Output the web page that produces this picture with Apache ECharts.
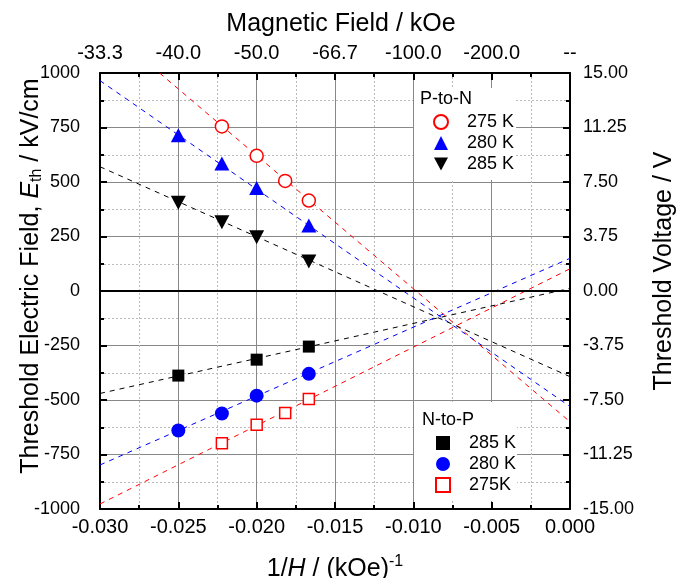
<!DOCTYPE html>
<html>
<head>
<meta charset="utf-8">
<script src="https://cdn.jsdelivr.net/npm/echarts@6/dist/echarts.min.js"></script>
<style>
  html, body { margin: 0; padding: 0; background: #fff; }
  #chart { width: 686px; height: 578px; }
</style>
</head>
<body>
<div id="chart"></div>
<script>
// Threshold field vs inverse magnetic field, P-to-N and N-to-P switching
const FONT = "'Liberation Sans', Arial, sans-serif";

// Axis tick labels on the top (magnetic field) axis, one per major tick of 1/H
const topTickLabels = ['-33.3', '-40.0', '-50.0', '-66.7', '-100.0', '-200.0', '--'];

// P-to-N measurements (1/H in kOe^-1, E_th in kV/cm)
const pn275x = [-0.02222, -0.020, -0.01818, -0.01667];
const pn275y = [755, 620, 505, 415];
const pn280x = [-0.025, -0.02222, -0.020, -0.01667];
const pn280y = [715, 585, 472, 300];
const pn285x = [-0.025, -0.02222, -0.020, -0.01667];
const pn285y = [405, 315, 247, 135];

// N-to-P measurements
const np285x = [-0.025, -0.020, -0.01667];
const np285y = [-388, -315, -255];
const np280x = [-0.025, -0.02222, -0.020, -0.01667];
const np280y = [-640, -562, -480, -380];
const np275x = [-0.02222, -0.020, -0.01818, -0.01667];
const np275y = [-698, -613, -560, -495];

// Linear fit lines, given by their end points [1/H, E_th]
const fitPN275 = [[-0.0262, 1000], [0, -600]];
const fitPN280 = [[-0.030, 965], [0, -530]];
const fitPN285 = [[-0.030, 570], [0, -393]];
const fitNP285 = [[-0.030, -470], [0, 12]];
const fitNP280 = [[-0.030, -798], [0, 150]];
const fitNP275 = [[-0.030, -977], [0, 102]];

const zeroLevel = 0;

const legendLabels = {
  'P-to-N 275 K': '275 K', 'P-to-N 280 K': '280 K', 'P-to-N 285 K': '285 K',
  'N-to-P 285 K': '285 K', 'N-to-P 280 K': '280 K', 'N-to-P 275 K': '275K'
};

const RED = '#ff0000', BLUE = '#0000ff', BLACK = '#000000';
// downward-pointing triangle used for the 285 K P-to-N points
const DOWN_TRIANGLE = 'path://M0,0L15,0L7.5,14Z';

function pairs(xs, ys) { return xs.map((x, i) => [x, ys[i]]); }

function fitSeries(name, pts, color) {
  return {
    name: name, type: 'line', data: pts, showSymbol: false, symbol: 'none',
    silent: true, z: 1, clip: true,
    lineStyle: { color: color, width: 1, type: [5, 5] }
  };
}

function scatter(name, xs, ys, symbol, size, style) {
  return {
    name: name, type: 'scatter', data: pairs(xs, ys),
    symbol: symbol, symbolSize: size,
    itemStyle: Object.assign({ opacity: 1 }, style), z: 3
  };
}

const axisLineStyle = { show: true, onZero: false, lineStyle: { color: '#000', width: 2 } };
const tickStyle = { show: true, inside: true, length: 7, lineStyle: { color: '#000', width: 2 } };
const minorTickStyle = { show: true, splitNumber: 2, length: 4, lineStyle: { color: '#000', width: 2 } };
const xLabelText = { color: '#000', fontSize: 20, fontFamily: FONT };
const yLabelText = { color: '#000', fontSize: 18, fontFamily: FONT };

const chart = echarts.init(document.getElementById('chart'), null, { renderer: 'canvas' });

chart.setOption({
  animation: false,
  backgroundColor: '#fff',
  grid: { left: 100, right: 116, top: 73, bottom: 69, containLabel: false, outerBoundsMode: 'none' },
  xAxis: [
    {
      type: 'value', position: 'bottom', min: -0.030, max: 0, interval: 0.005,
      axisLine: axisLineStyle, axisTick: tickStyle, minorTick: minorTickStyle,
      splitLine: { show: true, lineStyle: { color: '#888', width: 1 } },
      minorSplitLine: { show: true, lineStyle: { color: '#bbb', width: 1, type: [2, 2] } },
      axisLabel: Object.assign({ margin: 8, formatter: v => (Math.abs(v) < 1e-9 ? 0 : v).toFixed(3) }, xLabelText),
      name: '1/{i|H} / (kOe){sup|-1}', nameLocation: 'middle', nameGap: 45, nameMoveOverlap: false,
      nameTextStyle: {
        color: '#000', fontSize: 25, fontFamily: FONT,
        rich: {
          i: { fontStyle: 'italic', fontSize: 25, fontFamily: FONT, color: '#000' },
          sup: { fontSize: 16, fontFamily: FONT, color: '#000', padding: [0, 0, 14, 0] }
        }
      }
    },
    {
      type: 'value', position: 'top', min: -0.030, max: 0, interval: 0.005,
      axisLine: axisLineStyle, axisTick: tickStyle, minorTick: minorTickStyle,
      splitLine: { show: false },
      axisLabel: Object.assign({ margin: 10, formatter: (v, i) => topTickLabels[i] }, xLabelText),
      name: 'Magnetic Field / kOe', nameLocation: 'middle', nameGap: 36, nameMoveOverlap: false,
      nameTextStyle: { color: '#000', fontSize: 25, fontFamily: FONT, padding: [0, 0, 0, 12] }
    }
  ],
  yAxis: [
    {
      type: 'value', position: 'left', min: -1000, max: 1000, interval: 250,
      axisLine: axisLineStyle, axisTick: tickStyle, minorTick: minorTickStyle,
      splitLine: { show: true, lineStyle: { color: '#888', width: 1 } },
      minorSplitLine: { show: true, lineStyle: { color: '#bbb', width: 1, type: [2, 2] } },
      axisLabel: Object.assign({ margin: 20, formatter: v => String(v) }, yLabelText),
      name: 'Threshold Electric Field, {i|E}{sub|th} / kV/cm',
      nameLocation: 'middle', nameRotate: 90, nameGap: 55, nameMoveOverlap: false,
      nameTextStyle: {
        color: '#000', fontSize: 25, fontFamily: FONT, padding: [0, 0, 0, 30],
        rich: {
          i: { fontStyle: 'italic', fontSize: 25, fontFamily: FONT, color: '#000' },
          sub: { fontSize: 16, fontFamily: FONT, color: '#000', padding: [12, 0, 0, 0] }
        }
      }
    },
    {
      type: 'value', position: 'right', min: -15, max: 15, interval: 3.75,
      axisLine: axisLineStyle, axisTick: tickStyle, minorTick: minorTickStyle,
      splitLine: { show: false },
      axisLabel: Object.assign({ margin: 13, formatter: v => v.toFixed(2) }, yLabelText),
      name: 'Threshold Voltage / V', nameLocation: 'middle', nameRotate: 90, nameGap: 82,
      nameMoveOverlap: false,
      nameTextStyle: { color: '#000', fontSize: 25, fontFamily: FONT, padding: [0, 0, 0, 40] }
    }
  ],
  legend: [
    {
      orient: 'vertical', left: 433, top: 113, padding: 0, itemGap: 3,
      itemWidth: 14, itemHeight: 14,
      data: ['P-to-N 275 K', 'P-to-N 280 K', { name: 'P-to-N 285 K', icon: DOWN_TRIANGLE }],
      formatter: n => legendLabels[n],
      textStyle: { color: '#000', fontSize: 18, fontFamily: FONT, padding: [0, 0, 0, 14] },
      selectedMode: false, z: 6
    },
    {
      orient: 'vertical', left: 435, top: 434, padding: 0, itemGap: 3,
      itemWidth: 14, itemHeight: 14,
      data: ['N-to-P 285 K', 'N-to-P 280 K', 'N-to-P 275 K'],
      formatter: n => legendLabels[n],
      textStyle: { color: '#000', fontSize: 18, fontFamily: FONT, padding: [0, 0, 0, 14] },
      selectedMode: false, z: 6
    }
  ],
  graphic: [
    { type: 'rect', z: 3, silent: true, shape: { x: 414, y: 88, width: 102, height: 92 }, style: { fill: '#fff' } },
    { type: 'rect', z: 3, silent: true, shape: { x: 414, y: 402, width: 103, height: 99 }, style: { fill: '#fff' } },
    { type: 'text', z: 6, silent: true, x: 420, y: 99, style: { text: 'P-to-N', fill: '#000', fontSize: 18, fontFamily: FONT, verticalAlign: 'middle' } },
    { type: 'text', z: 6, silent: true, x: 422, y: 420, style: { text: 'N-to-P', fill: '#000', fontSize: 18, fontFamily: FONT, verticalAlign: 'middle' } }
  ],
  series: [
    Object.assign(fitSeries('fit P-to-N 275 K', fitPN275, RED), {
      markLine: {
        silent: true, symbol: 'none', label: { show: false }, z: 2,
        lineStyle: { color: '#000', width: 2, type: 'solid' },
        data: [{ yAxis: zeroLevel }]
      }
    }),
    fitSeries('fit P-to-N 280 K', fitPN280, BLUE),
    fitSeries('fit P-to-N 285 K', fitPN285, BLACK),
    fitSeries('fit N-to-P 285 K', fitNP285, BLACK),
    fitSeries('fit N-to-P 280 K', fitNP280, BLUE),
    fitSeries('fit N-to-P 275 K', fitNP275, RED),
    scatter('P-to-N 275 K', pn275x, pn275y, 'circle', 13, { color: '#fff', borderColor: RED, borderWidth: 1.5 }),
    scatter('P-to-N 280 K', pn280x, pn280y, 'triangle', [15, 14], { color: BLUE }),
    scatter('P-to-N 285 K', pn285x, pn285y, DOWN_TRIANGLE, [15, 14], { color: BLACK }),
    scatter('N-to-P 285 K', np285x, np285y, 'rect', 12, { color: BLACK }),
    scatter('N-to-P 280 K', np280x, np280y, 'circle', 14, { color: BLUE }),
    scatter('N-to-P 275 K', np275x, np275y, 'rect', 11, { color: '#fff', borderColor: RED, borderWidth: 1.5 })
  ]
});
</script>
</body>
</html>
